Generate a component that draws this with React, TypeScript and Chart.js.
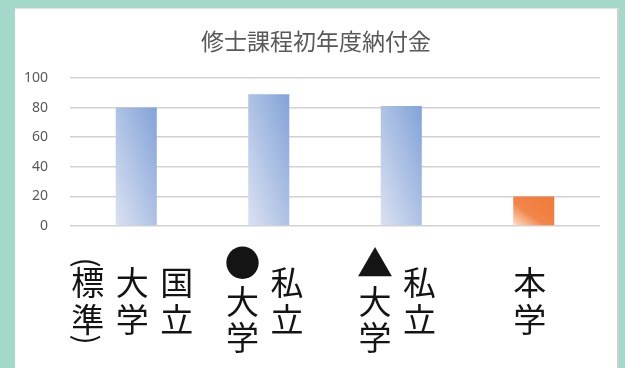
import React, { useEffect, useRef } from "react";
import { Chart, registerables } from "chart.js";

Chart.register(...registerables);

const title = "修士課程初年度納付金";
const categories = ["国立大学（標準）", "私立●大学", "私立▲大学", "本学"];
// vertical label columns, right to left
const labelColumns = [
  ["国立", "大学", "（標準）"],
  ["私立", "●大学"],
  ["私立", "▲大学"],
  ["本学"],
];
const values = [80, 89, 81, 20];
const yTicks = [0, 20, 40, 60, 80, 100];
const gradStops = [
  [
    [0, "#dbe2f2"],
    [1, "#82a2d8"],
  ],
  [
    [0, "#dbe2f2"],
    [1, "#82a2d8"],
  ],
  [
    [0, "#dbe2f2"],
    [1, "#82a2d8"],
  ],
  [
    [0, "#fde3d0"],
    [0.4, "#f2854a"],
    [1, "#ef7a36"],
  ],
];

const BAR_PCT = 0.31;

const verticalLabels = {
  id: "verticalLabels",
  afterDraw(chart: any) {
    const ctx = chart.ctx;
    const xs = chart.scales.x;
    const centerY = 292;
    const colPitch = 44.5;
    const charPitch = 36.5;
    const bracketH = 16;
    ctx.save();
    ctx.fillStyle = "#141414";
    ctx.textAlign = "center";
    ctx.textBaseline = "middle";
    labelColumns.forEach((cols, i) => {
      const bx = xs.getPixelForValue(i) - 4;
      const n = cols.length;
      cols.forEach((col, c) => {
        const x = bx + ((n - 1) / 2) * colPitch - c * colPitch;
        const chars = Array.from(col);
        const heights = chars.map((ch) => (ch === "（" || ch === "）" ? bracketH : charPitch));
        const total = heights.reduce((a, b) => a + b, 0);
        let y = centerY - total / 2;
        chars.forEach((ch, k) => {
          const cy = y + heights[k] / 2;
          if (ch === "（" || ch === "）") {
            ctx.save();
            ctx.translate(x, cy + (ch === "（" ? 6 : -6));
            ctx.rotate(Math.PI / 2);
            ctx.font = '30px "Noto Sans CJK JP", sans-serif';
            ctx.fillText(ch === "（" ? "(" : ")", 0, 0);
            ctx.restore();
          } else if (ch === "●" || ch === "▲") {
            ctx.font = '36px "Noto Sans CJK JP", sans-serif';
            ctx.fillText(ch, x, cy - 1);
          } else {
            ctx.font = '33px "Noto Sans CJK JP", sans-serif';
            ctx.fillText(ch, x, cy);
          }
          y += heights[k];
        });
      });
    });
    ctx.restore();
  },
};

export default function App() {
  const ref = useRef<HTMLCanvasElement>(null);
  useEffect(() => {
    document.body.style.margin = "0";
    const canvas = ref.current!;
    const chart = new Chart(canvas, {
      type: "bar",
      data: {
        labels: categories,
        datasets: [
          {
            data: values,
            barPercentage: BAR_PCT,
            categoryPercentage: 1,
            backgroundColor: (c: any) => {
              const ch = c.chart;
              if (!ch.chartArea || c.type !== "data") return "#9fb5e0";
              const xs = ch.scales.x;
              const ys = ch.scales.y;
              const i = c.dataIndex;
              const w = (xs.width / categories.length) * BAR_PCT;
              const left = xs.getPixelForValue(i) - w / 2;
              const top = ys.getPixelForValue(values[i]);
              const bottom = ys.getPixelForValue(0);
              const h = bottom - top;
              const t = (2 * w * h) / (w * w + h * h);
              const g = ch.ctx.createLinearGradient(left, bottom, left + t * h, bottom - t * w);
              gradStops[i].forEach(([o, col]: any) => g.addColorStop(o, col));
              return g;
            },
            borderWidth: 0,
          },
        ],
      },
      options: {
        responsive: false,
        animation: false,
        devicePixelRatio: 1,
        layout: { padding: { left: 0, right: 0, top: 0, bottom: 0 } },
        plugins: {
          legend: { display: false },
          tooltip: { enabled: false },
          title: {
            display: true,
            text: title,
            color: "#595959",
            font: { family: '"Noto Sans CJK JP", sans-serif', size: 23, weight: "normal" },
            padding: { top: 18.4, bottom: 23 },
          },
        },
        scales: {
          x: {
            grid: { display: false },
            border: { display: false },
            ticks: { display: false },
            afterFit: (s: any) => {
              s.height = 143;
            },
          },
          y: {
            min: 0,
            max: 100,
            afterBuildTicks: (s: any) => {
              s.ticks = yTicks.map((v) => ({ value: v }));
            },
            grid: { color: "#d2d2d2", lineWidth: 1.6, drawTicks: false },
            border: { display: false },
            ticks: {
              padding: 22,
              color: "#595959",
              font: { family: '"Liberation Sans Narrow", "Noto Sans", sans-serif', size: 14 },
            },
            afterFit: (s: any) => {
              s.width = 55;
            },
          },
          yRight: {
            position: "right",
            display: true,
            grid: { display: false, drawTicks: false },
            border: { display: false },
            ticks: { display: false },
            afterFit: (s: any) => {
              s.width = 17;
            },
          },
        },
      },
      plugins: [verticalLabels],
    });
    return () => chart.destroy();
  }, []);

  return (
    <div
      style={{
        position: "fixed",
        left: 0,
        top: 0,
        width: 625,
        height: 368,
        background: "#a3d8cb",
        overflow: "hidden",
      }}
    >
      <div
        style={{
          position: "absolute",
          left: 15,
          top: 8,
          width: 604,
          height: 362,
          background: "#ffffff",
          borderTop: "1px solid #eadfe0",
          borderRight: "2px solid #cfcfcf",
          boxSizing: "border-box",
        }}
      >
        <canvas
          ref={ref}
          width={602}
          height={360}
          style={{ position: "absolute", left: 0, top: 0, width: 602, height: 360 }}
        />
      </div>
    </div>
  );
}
